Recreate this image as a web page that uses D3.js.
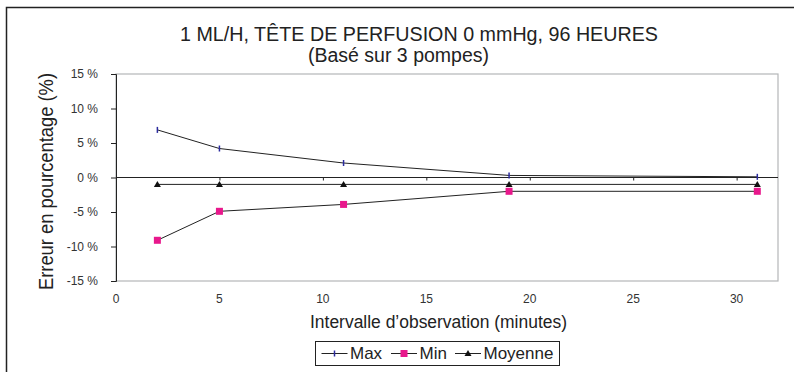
<!DOCTYPE html>
<html><head><meta charset="utf-8">
<script src="https://cdn.jsdelivr.net/npm/d3@7"></script>
<style>body{margin:0;background:#fff;} svg{display:block;font-family:"Liberation Sans",Arial,sans-serif;}</style>
</head><body>
<svg id="c" width="794" height="372"></svg>
<script>
const minutes = [2, 5, 11, 19, 31];
const maxValues = [6.9, 4.2, 2.1, 0.3, 0.1];
const minValues = [-9.1, -4.9, -3.9, -2.0, -2.0];
const meanValues = [-1.0, -1.0, -1.0, -1.0, -1.0];
const xTicks = [0, 5, 10, 15, 20, 25, 30];
const yTicks = [-15, -10, -5, 0, 5, 10, 15];
const seriesNames = ["Max", "Min", "Moyenne"];
const titleLines = ["1 ML/H, TÊTE DE PERFUSION 0 mmHg, 96 HEURES", "(Basé sur 3 pompes)"];
const xLabel = "Intervalle d\u2019observation (minutes)";
const yLabel = "Erreur en pourcentage (%)";

const svg = d3.select("#c");
// outer frame (cropped at right/bottom)
svg.append("rect").attr("x",6.5).attr("y",7.5).attr("width",800).attr("height",380)
  .attr("fill","none").attr("stroke","#222").attr("stroke-width",1.5);

const L=116, R=778, T=74, B=281;
const x = d3.scaleLinear().domain([0,32]).range([L,R]);
const y = d3.scaleLinear().domain([-15,15]).range([B,T]);

// plot frame gray
svg.append("rect").attr("x",L).attr("y",T).attr("width",R-L).attr("height",B-T)
  .attr("fill","none").attr("stroke","#b4b6b8").attr("stroke-width",1.2);

// y axis
const yAxis = svg.append("g").attr("transform",`translate(${L},0)`)
  .call(d3.axisLeft(y).tickValues(yTicks).tickSize(5).tickPadding(13).tickFormat(d=>d+" %"));
yAxis.select(".domain").attr("stroke","#222");
yAxis.selectAll(".tick line").attr("stroke","#222");
yAxis.selectAll("text").attr("font-size",12).attr("fill","#333").attr("font-family","Liberation Sans, Arial, sans-serif");

// x axis line at y=0
const xAxis = svg.append("g").attr("transform",`translate(0,${y(0)})`)
  .call(d3.axisBottom(x).tickValues(xTicks.filter(d=>d>0)).tickSize(3).tickFormat(""));
xAxis.select(".domain").attr("stroke","#222").attr("d",`M${L},0H${R}`);
xAxis.selectAll(".tick line").attr("stroke","#222");
// x tick labels below plot
svg.append("g").selectAll("text").data(xTicks).join("text")
  .attr("x",d=>x(d)).attr("y",B+21.5).attr("text-anchor","middle")
  .attr("font-size",12).attr("fill","#333").text(d=>d);

const line = d3.line().x((d,i)=>x(minutes[i])).y(d=>y(d));
const series = [
  {name:seriesNames[0], vals:maxValues},
  {name:seriesNames[1], vals:minValues},
  {name:seriesNames[2], vals:meanValues}
];
series.forEach(s=>{
  svg.append("path").attr("d",line(s.vals)).attr("fill","none").attr("stroke","#222").attr("stroke-width",1);
});
// markers
const drawMarker = (g, name, cx, cy) => {
  if (name==="Max") {
    g.append("line").attr("x1",cx).attr("x2",cx).attr("y1",cy-3).attr("y2",cy+3).attr("stroke","#2b2b9f").attr("stroke-width",1.5);
  } else if (name==="Min") {
    g.append("rect").attr("x",cx-3.5).attr("y",cy-3.5).attr("width",7).attr("height",7).attr("fill","#e8188c");
  } else {
    g.append("path").attr("d",`M${cx},${cy-3.5}L${cx+3.5},${cy+2.5}L${cx-3.5},${cy+2.5}Z`).attr("fill","#111");
  }
};
const mg = svg.append("g");
series.forEach(s=>{
  s.vals.forEach((v,i)=>drawMarker(mg, s.name, x(minutes[i]), y(v)));
});

// titles
svg.append("text").attr("x",419).attr("y",41).attr("text-anchor","middle").attr("font-size",19.5)
  .attr("textLength",478).attr("lengthAdjust","spacingAndGlyphs").attr("fill","#222").text(titleLines[0]);
svg.append("text").attr("x",398.5).attr("y",62).attr("text-anchor","middle").attr("font-size",19.5)
  .attr("textLength",181).attr("lengthAdjust","spacingAndGlyphs").attr("fill","#222").text(titleLines[1]);
svg.append("text").attr("x",438.5).attr("y",328).attr("text-anchor","middle").attr("font-size",17.5)
  .attr("textLength",257).attr("lengthAdjust","spacingAndGlyphs").attr("fill","#222").text(xLabel);
svg.append("text").attr("transform","translate(53,181.5) rotate(-90)").attr("text-anchor","middle").attr("font-size",19.5)
  .attr("textLength",217).attr("lengthAdjust","spacingAndGlyphs").attr("fill","#222").text(yLabel);

// legend
const lg = svg.append("g");
lg.append("rect").attr("x",315.5).attr("y",341.5).attr("width",244).attr("height",24).attr("fill","#fff").attr("stroke","#222").attr("stroke-width",1);
const items = [{name:"Max", x0:321.5},{name:"Min", x0:391},{name:"Moyenne", x0:455}];
items.forEach(it=>{
  const ly = 353.5;
  lg.append("line").attr("x1",it.x0).attr("x2",it.x0+26).attr("y1",ly).attr("y2",ly).attr("stroke","#222").attr("stroke-width",1);
  drawMarker(lg, it.name, it.x0+13, ly);
  lg.append("text").attr("x",it.x0+28.5).attr("y",359).attr("font-size",17).attr("fill","#222").text(it.name);
});
</script>
</body></html>
